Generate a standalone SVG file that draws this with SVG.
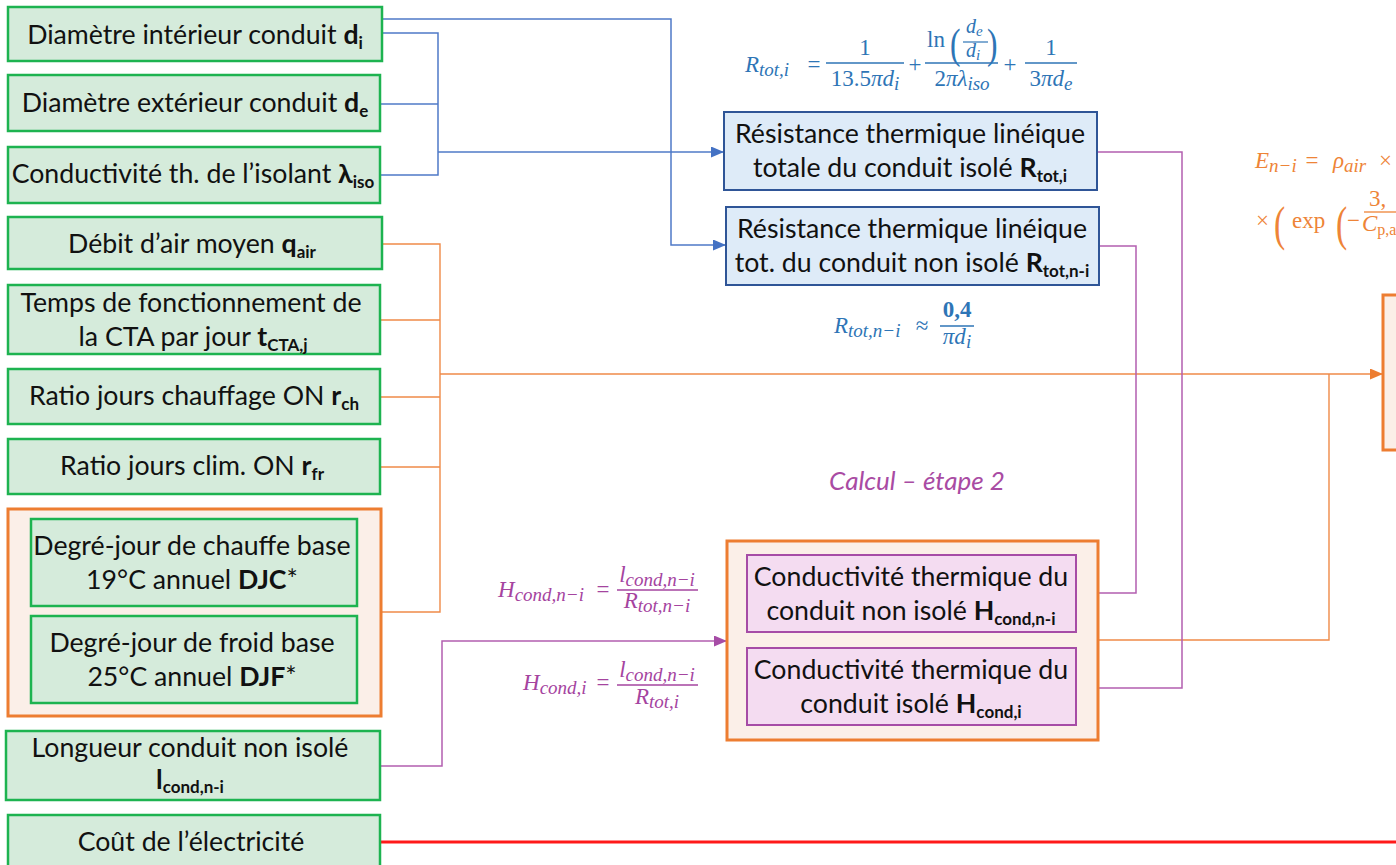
<svg xmlns="http://www.w3.org/2000/svg" width="1396" height="865" viewBox="0 0 1396 865">
<style>
.g{fill:#d5ebdb;stroke:#1db350;stroke-width:2.5}
.o{fill:#fbefe8;stroke:#ed7d31;stroke-width:3}
.b{fill:#deebf8;stroke:#2f5597;stroke-width:2}
.p{fill:#f4dcf1;stroke:#a64ca6;stroke-width:2}
.t{font-family:Lato,"Liberation Sans",sans-serif;font-size:26.7px;fill:#111;text-anchor:middle}
.bd{font-weight:bold}
.s{font-size:17px;font-weight:bold}
.m{font-family:"Liberation Serif","DejaVu Serif",serif;font-size:23px}
.i{font-style:italic}
.ms{font-size:19px;font-style:italic}
.c{text-anchor:middle}
.fb{fill:#2e75b6}
.fp{fill:#a5449f}
.fo{fill:#ee8437}
.cb{fill:none;stroke:#4f7ac7;stroke-width:1.5}
.co{fill:none;stroke:#ef8a48;stroke-width:1.4}
.cp{fill:none;stroke:#b35fb0;stroke-width:1.5}
</style>
<defs>
<marker id="ab" markerUnits="userSpaceOnUse" markerWidth="13" markerHeight="11" refX="13" refY="5.5" orient="auto"><path d="M0,0 L13,5.5 L0,11 z" fill="#4472c4"/></marker>
<marker id="ap" markerUnits="userSpaceOnUse" markerWidth="13" markerHeight="11" refX="13" refY="5.5" orient="auto"><path d="M0,0 L13,5.5 L0,11 z" fill="#a64ca6"/></marker>
<marker id="ao" markerUnits="userSpaceOnUse" markerWidth="13" markerHeight="11" refX="13" refY="5.5" orient="auto"><path d="M0,0 L13,5.5 L0,11 z" fill="#ed7d31"/></marker>
</defs>
<rect width="1396" height="865" fill="#fff"/>

<g id="connectors">
<path class="cb" d="M382 19 H671 V245 H726" marker-end="url(#ab)"/>
<path class="cb" d="M382 33 H438 V175 H380"/>
<path class="cb" d="M380 104 H438"/>
<path class="cb" d="M438 152 H724" stroke-width="2" marker-end="url(#ab)"/>
<path class="co" d="M382 244 H440 V612 H381"/>
<path class="co" d="M380 320 H440 M380 397 H440 M380 467 H440"/>
<path class="co" d="M440 374 H1383" stroke-width="2" marker-end="url(#ao)"/>
<path class="co" d="M1098 640 H1329 V374"/>
<path class="cp" d="M1097 152 H1182 V688 H1077" marker-end="url(#ap)"/>
<path class="cp" d="M1099 246 H1136 V593 H1077" marker-end="url(#ap)"/>
<path class="cp" d="M380 766 H442 V641 H727" marker-end="url(#ap)"/>
<path d="M380 842 H1396" fill="none" stroke="#ff1a1a" stroke-width="3"/>
</g>

<g id="n_di"><rect class="g" x="8" y="7" width="374" height="54"/><text class="t" x="195" y="44">Diamètre intérieur conduit <tspan class="bd">d</tspan><tspan class="s" dy="5">i</tspan></text></g>
<g id="n_de"><rect class="g" x="8" y="75" width="372" height="56"/><text class="t" x="195" y="112">Diamètre extérieur conduit <tspan class="bd">d</tspan><tspan class="s" dy="5">e</tspan></text></g>
<g id="n_lambda"><rect class="g" x="8" y="147" width="372" height="56"/><text class="t" x="193" y="183">Conductivité th. de l’isolant <tspan class="bd">λ</tspan><tspan class="s" dy="5">iso</tspan></text></g>
<g id="n_qair"><rect class="g" x="8" y="217" width="374" height="52"/><text class="t" x="192" y="253">Débit d’air moyen <tspan class="bd">q</tspan><tspan class="s" dy="5">air</tspan></text></g>
<g id="n_tcta"><rect class="g" x="8" y="285" width="372" height="69"/><text class="t" x="191" y="312">Temps de fonctionnement de</text><text class="t" x="193" y="346">la CTA par jour <tspan class="bd">t</tspan><tspan class="s" dy="5">CTA,j</tspan></text></g>
<g id="n_rch"><rect class="g" x="8" y="369" width="372" height="55"/><text class="t" x="194" y="405">Ratio jours chauffage ON <tspan class="bd">r</tspan><tspan class="s" dy="5">ch</tspan></text></g>
<g id="n_rfr"><rect class="g" x="8" y="439" width="372" height="55"/><text class="t" x="192" y="475">Ratio jours clim. ON <tspan class="bd">r</tspan><tspan class="s" dy="5">fr</tspan></text></g>
<g id="n_dj"><rect class="o" x="8" y="509" width="373" height="207"/>
<g id="n_djc"><rect class="g" x="31" y="519" width="326" height="87"/><text class="t" x="192" y="555">Degré-jour de chauffe base</text><text class="t" x="192" y="589">19°C annuel <tspan class="bd">DJC</tspan>*</text></g>
<g id="n_djf"><rect class="g" x="31" y="616" width="326" height="87"/><text class="t" x="192" y="652">Degré-jour de froid base</text><text class="t" x="192" y="686">25°C annuel <tspan class="bd">DJF</tspan>*</text></g>
</g>
<g id="n_lcond"><rect class="g" x="6" y="731" width="374" height="69"/><text class="t" x="190" y="757">Longueur conduit non isolé</text><text class="t" x="190" y="789"><tspan class="bd">l</tspan><tspan class="s" dy="4">cond,n-i</tspan></text></g>
<g id="n_cout"><rect class="g" x="8" y="815" width="372" height="60"/><text class="t" x="191" y="851">Coût de l’électricité</text></g>

<g id="n_rtoti"><rect class="b" x="724" y="112" width="373" height="78"/><text class="t" x="910" y="143">Résistance thermique linéique</text><text class="t" x="910" y="177">totale du conduit isolé <tspan class="bd">R</tspan><tspan class="s" dy="5">tot,i</tspan></text></g>
<g id="n_rtotni"><rect class="b" x="726" y="207" width="373" height="78"/><text class="t" x="912" y="238">Résistance thermique linéique</text><text class="t" x="912" y="272">tot. du conduit non isolé <tspan class="bd">R</tspan><tspan class="s" dy="5">tot,n-i</tspan></text></g>

<g id="n_hcond"><rect class="o" x="727" y="541" width="371" height="199"/>
<g id="n_hni"><rect class="p" x="747" y="555" width="329" height="77"/><text class="t" x="911" y="586">Conductivité thermique du</text><text class="t" x="911" y="620">conduit non isolé <tspan class="bd">H</tspan><tspan class="s" dy="5">cond,n-i</tspan></text></g>
<g id="n_hi"><rect class="p" x="747" y="648" width="329" height="77"/><text class="t" x="911" y="679">Conductivité thermique du</text><text class="t" x="911" y="713">conduit isolé <tspan class="bd">H</tspan><tspan class="s" dy="5">cond,i</tspan></text></g>
</g>

<g id="n_en"><rect class="o" x="1383" y="295" width="20" height="155"/></g>

<text x="917" y="490" font-family="Lato,'Liberation Sans',sans-serif" font-size="26" font-style="italic" fill="#a94ba3" text-anchor="middle">Calcul – étape 2</text>

<g id="f_rtoti" class="m fb">
<text x="745" y="72"><tspan class="i">R</tspan><tspan class="ms" dy="4">tot,i</tspan></text>
<text x="814" y="72" class="c">=</text>
<text x="865" y="55" class="c">1</text>
<path d="M826 63 H904" stroke="#2e75b6" stroke-width="1.3"/>
<text x="865" y="86" class="c">13.5<tspan class="i">πd</tspan><tspan class="ms" dy="4">i</tspan></text>
<text x="915" y="72" class="c">+</text>
<text x="927" y="47">ln</text>
<text x="950" y="58" font-size="42" transform="translate(950 58) scale(0.75 1) translate(-950 -58)">(</text>
<text x="966" y="33" font-size="20"><tspan class="i">d</tspan><tspan font-size="15" class="i" dy="3">e</tspan></text>
<path d="M963 42 H988" stroke="#2e75b6" stroke-width="1.2"/>
<text x="966" y="57" font-size="20"><tspan class="i">d</tspan><tspan font-size="15" class="i" dy="3">i</tspan></text>
<text x="987" y="58" font-size="42" transform="translate(987 58) scale(0.75 1) translate(-987 -58)">)</text>
<path d="M925 63 H998" stroke="#2e75b6" stroke-width="1.3"/>
<text x="962" y="86" class="c">2<tspan class="i">πλ</tspan><tspan class="ms" dy="4">iso</tspan></text>
<text x="1010" y="72" class="c">+</text>
<text x="1051" y="55" class="c">1</text>
<path d="M1025 63 H1077" stroke="#2e75b6" stroke-width="1.3"/>
<text x="1051" y="86" class="c">3<tspan class="i">πd</tspan><tspan class="ms" dy="4">e</tspan></text>
</g>

<g id="f_rtotni" class="m fb">
<text x="834" y="333"><tspan class="i">R</tspan><tspan class="ms" dy="4">tot,n−i</tspan></text>
<text x="922" y="333" class="c">≈</text>
<text x="957" y="317" class="c" font-weight="bold">0,4</text>
<path d="M940 326 H974" stroke="#2e75b6" stroke-width="1.3"/>
<text x="957" y="344" class="c i">πd<tspan class="ms" dy="4">i</tspan></text>
</g>

<g id="f_h" class="m fp">
<text x="498" y="597"><tspan class="i">H</tspan><tspan class="ms" dy="4">cond,n−i</tspan></text>
<text x="603" y="597" class="c">=</text>
<text x="657" y="582" class="c i">l<tspan class="ms" dy="4">cond,n−i</tspan></text>
<path d="M617 590 H698" stroke="#a5449f" stroke-width="1.3"/>
<text x="657" y="608" class="c i">R<tspan class="ms" dy="4">tot,n−i</tspan></text>
<text x="523" y="690"><tspan class="i">H</tspan><tspan class="ms" dy="4">cond,i</tspan></text>
<text x="603" y="690" class="c">=</text>
<text x="657" y="677" class="c i">l<tspan class="ms" dy="4">cond,n−i</tspan></text>
<path d="M617 685 H698" stroke="#a5449f" stroke-width="1.3"/>
<text x="657" y="704" class="c i">R<tspan class="ms" dy="4">tot,i</tspan></text>
</g>

<g id="f_en" class="m fo">
<text x="1255" y="168"><tspan class="i">E</tspan><tspan class="ms" dy="4">n−i</tspan></text>
<text x="1312" y="168" class="c">=</text>
<text x="1333" y="168"><tspan class="i">ρ</tspan><tspan class="ms" dy="4">air</tspan></text>
<text x="1379" y="168">×</text>
<text x="1256" y="228">×</text>
<text x="1274" y="240" font-size="48" transform="translate(1274 240) scale(0.7 1) translate(-1274 -240)">(</text>
<text x="1292" y="228">exp</text>
<text x="1336" y="240" font-size="48" transform="translate(1336 240) scale(0.7 1) translate(-1336 -240)">(</text>
<text x="1347" y="228">−</text>
<text x="1369" y="206">3,</text>
<path d="M1364 212 H1396" stroke="#ee8437" stroke-width="1.3"/>
<text x="1362" y="231"><tspan class="i">C</tspan><tspan font-size="16" dy="4">p,a</tspan></text>
</g>
</svg>
